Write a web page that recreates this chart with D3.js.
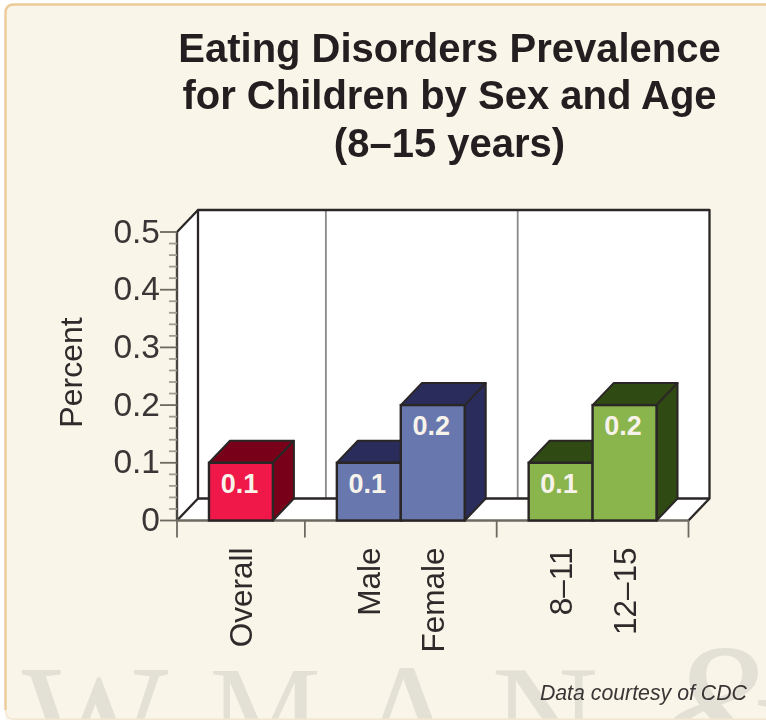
<!DOCTYPE html>
<html><head><meta charset="utf-8">
<script src="https://cdn.jsdelivr.net/npm/d3@7/dist/d3.min.js"></script>
<style>html,body{margin:0;padding:0;background:#fff}svg{display:block;filter:blur(0.6px)}text{font-family:"Liberation Sans",Arial,sans-serif}</style>
</head><body><svg id="c" width="766" height="720"></svg>
<script>
const titleLines = ["Eating Disorders Prevalence","for Children by Sex and Age","(8–15 years)"];
const groupNames = ["All","Sex","Age"];
const overallCats = ["Overall"];
const overallVals = [0.1];
const sexCats = ["Male","Female"];
const sexVals = [0.1,0.2];
const ageCats = ["8–11","12–15"];
const ageVals = [0.1,0.2];
const yTicks = [0,0.1,0.2,0.3,0.4,0.5];
const yLabels = ["0","0.1","0.2","0.3","0.4","0.5"];
const frontColors = ["#ef1848","#6878ae","#8ab44c"];
const sideColors = ["#780018","#2a2c5c","#304a14"];
const watermark = ["W","M","A","N","&"];
const groups = [
 {name:groupNames[0],cats:overallCats,vals:overallVals},
 {name:groupNames[1],cats:sexCats,vals:sexVals},
 {name:groupNames[2],cats:ageCats,vals:ageVals}];

const svg = d3.select("#c");
const ink = "#2a2626", axisGrey="#6e6a62";
const DX=21, DY=22;
const y = d3.scaleLinear().domain([0,0.5]).range([520.5,232]);
const totalSlots = d3.sum(groups,g=>g.cats.length+1);
const x = d3.scaleLinear().domain([0,totalSlots]).range([177,688.5]);

// panel
svg.append("path").attr("d","M5.5,719.5 V13 Q5.5,4.5 14,4.5 H800 V719.5 Z").attr("fill","#f9f5e9");

const wmCentre = d3.scaleOrdinal().domain(watermark).range([95,265,408,545,728]);
const wmSize = d3.scaleOrdinal().domain(watermark).range([155,125,150,148,190]);
const wmTop = d3.scaleOrdinal().domain(watermark).range([670,670,668,670,650]);
svg.append("g").selectAll("text").data(watermark).join("text")
  .attr("x",d=>wmCentre(d)).attr("y",d=>wmTop(d)+0.66*wmSize(d)).attr("text-anchor","middle")
  .attr("font-size",d=>wmSize(d))
  .attr("font-style",d=>d==="&"?"italic":"normal")
  .style("font-family","'Liberation Serif',serif").attr("fill","#e3e0d6").text(d=>d);

svg.append("path").attr("d","M5.5,710 V13 Q5.5,4.5 14,4.5 H800").attr("fill","none").attr("stroke","#eccb98").attr("stroke-width",2.4);
svg.append("path").attr("d","M5.5,710 Q5.5,719 14,719.2 H800").attr("fill","none").attr("stroke","#f3e6cf").attr("stroke-width",1.4);

svg.append("g").selectAll("text").data(titleLines).join("text")
  .attr("x",449.5).attr("y",(d,i)=>61.5+i*47.5).attr("text-anchor","middle")
  .attr("font-size",40).attr("font-weight","bold").attr("fill","#231f20").text(d=>d);

// walls and floor
const x0=x(0),x1=x(totalSlots),yb=y(0),yt=y(0.5);
const pts=a=>a.map(p=>p.join(",")).join(" ");
svg.append("polygon").attr("points",pts([[x0,yb],[x0+DX,yb-DY],[x1+DX,yb-DY],[x1,yb]])).attr("fill","#fff");
svg.append("polygon").attr("points",pts([[x0,yb],[x0,yt],[x0+DX,yt-DY],[x0+DX,yb-DY]])).attr("fill","#fff");
svg.append("rect").attr("x",x0+DX).attr("y",yt-DY).attr("width",x1-x0).attr("height",yb-yt).attr("fill","#fff");

// group separators on back wall
let pos=0; const seps=[0];
groups.forEach(g=>{pos+=g.cats.length+1;seps.push(pos)});
svg.append("g").selectAll("line").data(seps.slice(1,-1)).join("line")
  .attr("x1",d=>x(d)+DX).attr("x2",d=>x(d)+DX).attr("y1",yt-DY).attr("y2",yb-DY)
  .attr("stroke","#8a8a88").attr("stroke-width",1.8);

// wall/floor outlines
const stroke=(a,c=ink,w=2.3)=>svg.append("polyline").attr("points",pts(a)).attr("fill","none").attr("stroke",c).attr("stroke-width",w).attr("stroke-linejoin","round");
stroke([[x0+DX,yb-DY],[x0+DX,yt-DY],[x1+DX,yt-DY],[x1+DX,yb-DY],[x0+DX,yb-DY]]);
stroke([[x0,yt],[x0+DX,yt-DY]]);
stroke([[x0,yb],[x0+DX,yb-DY]]);
stroke([[x1,yb],[x1+DX,yb-DY]]);
stroke([[x0,yb],[x0,yt]],"#4a4642",2.4);

// minor ticks
const minor=d3.range(0,50,2).map(i=>i/100).filter(v=>Math.round(v*100)%10!==0);
svg.append("g").selectAll("line").data(minor).join("line")
  .attr("x1",x0-8).attr("x2",x0).attr("y1",d=>y(d)).attr("y2",d=>y(d)).attr("stroke","#a09c90").attr("stroke-width",1.8);
svg.append("g").selectAll("line").data(yTicks).join("line")
  .attr("x1",x0-17).attr("x2",x0).attr("y1",d=>y(d)).attr("y2",d=>y(d)).attr("stroke",axisGrey).attr("stroke-width",1.8);
svg.append("g").selectAll("text").data(yTicks).join("text")
  .attr("x",x0-17).attr("y",d=>y(d)+10.5).attr("text-anchor","end").attr("font-size",33.5).attr("fill","#3a3636")
  .text((d,i)=>yLabels[i]);
svg.append("text").attr("transform","translate(82,372.5) rotate(-90)").attr("text-anchor","middle")
  .attr("font-size",32).attr("fill","#2f2b2b").text("Percent");

// baseline & group ticks
svg.append("line").attr("x1",x0).attr("x2",x1).attr("y1",yb).attr("y2",yb).attr("stroke",axisGrey).attr("stroke-width",2.4);
svg.append("g").selectAll("line").data(seps).join("line")
  .attr("x1",d=>x(d)).attr("x2",d=>x(d)).attr("y1",yb).attr("y2",yb+17).attr("stroke",axisGrey).attr("stroke-width",1.8);

// bars
groups.forEach((g,gi)=>{
  const start=seps[gi]+0.5;
  const items=g.cats.map((c,i)=>({c,v:g.vals[i],s:start+i}));
  const bar=svg.append("g").selectAll("g").data(items).join("g");
  bar.each(function(d){
    const s=d3.select(this),a=x(d.s),b=x(d.s+1),t=y(d.v);
    s.append("polygon").attr("points",pts([[a,t],[a+DX,t-DY],[b+DX,t-DY],[b,t]]))
      .attr("fill",sideColors[gi]).attr("stroke",ink).attr("stroke-width",2).attr("stroke-linejoin","round");
    s.append("polygon").attr("points",pts([[b,t],[b+DX,t-DY],[b+DX,yb-DY],[b,yb]]))
      .attr("fill",sideColors[gi]).attr("stroke",ink).attr("stroke-width",2).attr("stroke-linejoin","round");
  });
  bar.each(function(d){
    const s=d3.select(this),a=x(d.s),b=x(d.s+1),t=y(d.v);
    s.append("rect").attr("x",a).attr("y",t).attr("width",b-a).attr("height",yb-t)
      .attr("fill",frontColors[gi]).attr("stroke",ink).attr("stroke-width",2.4);
    s.append("text").attr("x",(a+b)/2-1.5).attr("y",t+30).attr("text-anchor","middle")
      .attr("font-size",27).attr("font-weight","bold").attr("fill","#f7f3ea").text(d.v.toFixed(1));
  });
  svg.append("g").selectAll("text").data(items).join("text")
    .attr("transform",d=>`translate(${x(d.s+0.5)+11},${yb+27}) rotate(-90)`)
    .attr("text-anchor","end").attr("font-size",31.5).attr("fill","#2f2b2b").text(d=>d.c);
});

svg.append("text").attr("x",747).attr("y",700).attr("text-anchor","end")
  .attr("font-size",21.3).attr("font-style","italic").attr("fill","#3a3636").text("Data courtesy of CDC");
</script></body></html>
